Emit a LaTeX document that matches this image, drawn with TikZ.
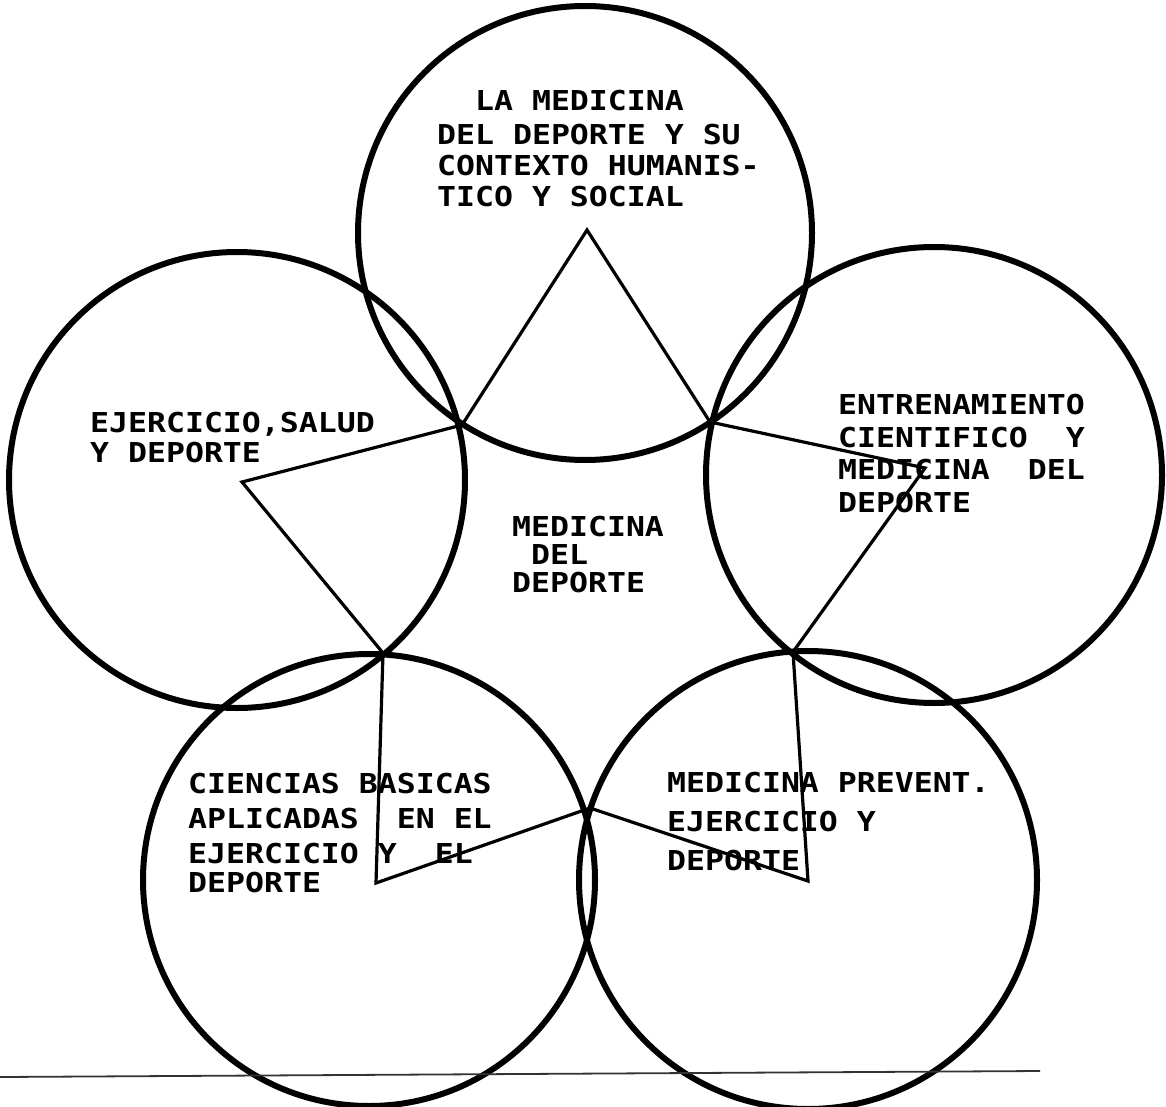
\documentclass[tikz,border=0pt]{standalone}
\usepackage{fontspec}
\newfontfamily\dmfont[FakeStretch=1.15]{DejaVu Sans Mono}
\begin{document}
\begin{tikzpicture}[x=1pt,y=-1pt,
  ring/.style={line width=6pt},
  starline/.style={line width=3.2pt, line join=miter},
  lbl/.style={font=\dmfont\bfseries\fontsize{27.4}{31}\selectfont, align=left, inner sep=0pt, anchor=base west},
  scanline/.style={line width=1.8pt, black!80}]
\useasboundingbox (0,0) rectangle (1166,1107);
% circle centres
\coordinate (ctop) at (585,233);
\coordinate (cleft) at (237,480);
\coordinate (cright) at (934,475);
\coordinate (cbl) at (369,880);
\coordinate (cbr) at (808,880);
\draw[ring] (ctop) circle (227);
\draw[ring] (cleft) circle (228);
\draw[ring] (cright) circle (228);
\draw[ring] (cbl) circle (226);
\draw[ring] (cbr) circle (229);
% star vertices
\coordinate (v1) at (462,425);
\coordinate (v2) at (710,422);
\coordinate (v3) at (793,652);
\coordinate (v4) at (590,808);
\coordinate (v5) at (383,653);
\coordinate (atop) at (587,230);
\coordinate (aright) at (925,468);
\coordinate (abr) at (808,881);
\coordinate (abl) at (376,883);
\coordinate (aleft) at (242,482);
\draw[starline] (v1) -- (atop) -- (v2) -- (aright) -- (v3) -- (abr) -- (v4) -- (abl) -- (v5) -- (aleft) -- cycle;
% scan line at bottom
\coordinate (s1) at (0,1077);
\coordinate (s2) at (1040,1071);
\draw[scanline] (s1) -- (s2);
% labels (anchor = baseline of last line)
\node[lbl] (ttop) at (437,207) {\phantom{XX}LA MEDICINA\\[3pt]DEL DEPORTE Y SU\\CONTEXTO HUMANIS-\\TICO Y SOCIAL};
\node[lbl,font=\dmfont\bfseries\fontsize{27.4}{30}\selectfont] (tleft) at (90,462) {EJERCICIO,SALUD\\Y DEPORTE};
\node[lbl,font=\dmfont\bfseries\fontsize{27.4}{32.5}\selectfont] (tright) at (838,512) {ENTRENAMIENTO\\CIENTIFICO\ \ Y\\MEDICINA\ \ DEL\\DEPORTE};
\node[lbl,font=\dmfont\bfseries\fontsize{27.4}{28}\selectfont] (tcenter) at (512,592) {MEDICINA\\\phantom{X}DEL\\DEPORTE};
\node[lbl,font=\dmfont\bfseries\fontsize{27.4}{35}\selectfont] (tbl) at (188,892) {CIENCIAS BASICAS\\APLICADAS\ \ EN EL\\EJERCICIO Y\ \ EL\\[-6pt]DEPORTE};
\node[lbl,font=\dmfont\bfseries\fontsize{27.4}{39}\selectfont] (tbr) at (667,870) {MEDICINA PREVENT.\\EJERCICIO Y\\DEPORTE};
\end{tikzpicture}
\end{document}
